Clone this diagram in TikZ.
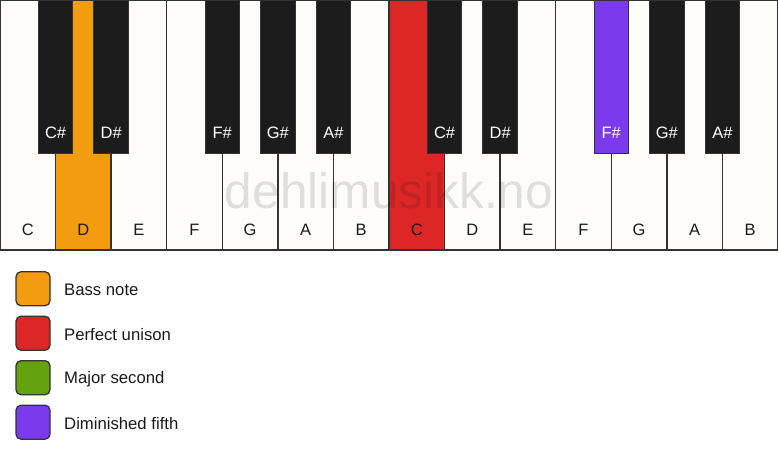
\documentclass[tikz,border=0pt]{standalone}
\usepackage{fontspec}
\setmainfont{Liberation Sans}
\definecolor{keywhite}{HTML}{FEFDF9}
\definecolor{keyblack}{HTML}{1C1C1C}
\definecolor{edge}{HTML}{333333}
\definecolor{bassC}{HTML}{F39C0F}
\definecolor{unisonC}{HTML}{DD2727}
\definecolor{secondC}{HTML}{63A10E}
\definecolor{fifthC}{HTML}{7C3AED}
\definecolor{txt}{HTML}{1A1A1A}
\tikzset{
  whitekey/.style={draw=edge, line width=1.3pt, fill=keywhite, rectangle, anchor=north west,
    minimum width=55.571pt, minimum height=250pt, inner sep=0pt, outer sep=0pt},
  blackkey/.style={draw=edge, line width=1pt, fill=keyblack, rectangle, anchor=north,
    minimum width=34.5pt, minimum height=153pt, inner sep=0pt, outer sep=0pt},
  wlabel/.style={font=\fontsize{16.5}{18}\selectfont, text=txt, inner sep=0pt},
  blabel/.style={font=\fontsize{16.5}{18}\selectfont, text=white, inner sep=0pt},
  legendbox/.style={draw=edge, line width=1.3pt, rounded corners=5pt, minimum size=34pt,
    inner sep=0pt, outer sep=0pt},
  legendtext/.style={font=\fontsize{16.7}{18}\selectfont, text=txt, anchor=west, inner sep=0pt},
  watermark/.style={font=\fontsize{49.6}{55}\selectfont, text=black, text opacity=0.12, inner sep=0pt, anchor=base}
}
\begin{document}
\begin{tikzpicture}[x=1pt,y=-1pt]
\useasboundingbox (0,0) rectangle (778,461);
\fill[white] (0,0) rectangle (778,461);
% white keys
\foreach \i/\n/\c in {0/C/keywhite,1/D/bassC,2/E/keywhite,3/F/keywhite,4/G/keywhite,5/A/keywhite,6/B/keywhite,
  7/C/unisonC,8/D/keywhite,9/E/keywhite,10/F/keywhite,11/G/keywhite,12/A/keywhite,13/B/keywhite}{
  \node[whitekey, fill=\c] (w\i) at ({\i*55.571},0) {};
  \node[wlabel] (wl\i) at ({\i*55.571+27.786},230) {\n};
}
% black keys
\foreach \i/\n/\c in {1/C\#/keyblack,2/D\#/keyblack,4/F\#/keyblack,5/G\#/keyblack,6/A\#/keyblack,
  8/C\#/keyblack,9/D\#/keyblack,11/F\#/fifthC,12/G\#/keyblack,13/A\#/keyblack}{
  \node[blackkey, fill=\c] (b\i) at ({\i*55.571},0) {};
  \node[blabel] (bl\i) at ({\i*55.571},133) {\n};
}
% outer frame
\draw[edge, line width=1.5pt] (w0.north west) rectangle (w13.south east);
% watermark
\node[watermark] (wm) at (389,208) {dehlimusikk.no};
% legend
\node[legendbox, fill=bassC] (lg1) at (33,288.7) {};
\node[legendtext] (lt1) at (64,289.7) {Bass note};
\node[legendbox, fill=unisonC] (lg2) at (33,333.2) {};
\node[legendtext] (lt2) at (64,334.2) {Perfect unison};
\node[legendbox, fill=secondC] (lg3) at (33,377.7) {};
\node[legendtext] (lt3) at (64,378.7) {Major second};
\node[legendbox, fill=fifthC] (lg4) at (33,422.2) {};
\node[legendtext] (lt4) at (64,423.2) {Diminished fifth};
\end{tikzpicture}
\end{document}
